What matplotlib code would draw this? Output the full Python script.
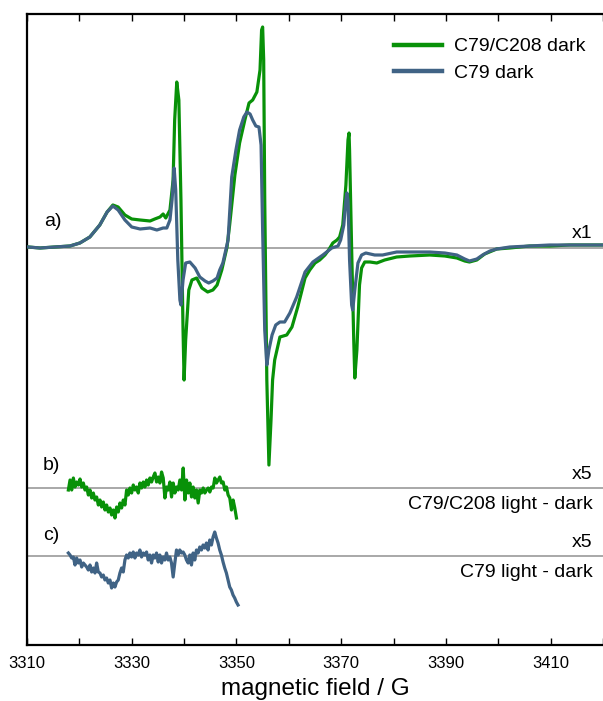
import numpy as np
import matplotlib
matplotlib.use("Agg")
import matplotlib.pyplot as plt
from matplotlib.ticker import MultipleLocator

plt.rcParams['font.family'] = ['Liberation Sans', 'DejaVu Sans']

# dark spectra (field in G, intensity in arb. units)
field_dark = [3310.2, 3312.5, 3315.3, 3318.2, 3320.1, 3322.0, 3323.9, 3325.3, 3326.4, 3327.4,
              3328.7, 3330.0, 3331.6, 3333.5, 3334.4, 3335.4, 3336.0, 3336.5, 3337.3, 3337.9,
              3338.2, 3338.6, 3339.0, 3339.4, 3339.8, 3340.0, 3340.3, 3340.9, 3341.5, 3342.4,
              3343.4, 3344.5, 3345.5, 3346.3, 3347.2, 3348.2, 3348.7, 3349.7, 3350.6, 3351.6,
              3352.4, 3353.1, 3353.9, 3354.5, 3354.8, 3355.0, 3355.2, 3355.4, 3355.8, 3356.2,
              3356.6, 3356.9, 3357.3, 3358.3, 3359.6, 3360.6, 3361.7, 3363.1, 3364.0, 3365.0,
              3365.9, 3366.9, 3367.6, 3368.4, 3369.2, 3369.7, 3370.3, 3370.9, 3371.3, 3371.5,
              3371.6, 3372.0, 3372.4, 3372.6, 3373.0, 3373.5, 3373.9, 3374.5, 3375.5, 3376.8,
              3378.3, 3380.6, 3383.1, 3386.9, 3389.8, 3392.1, 3393.6, 3394.5, 3395.9, 3397.4,
              3399.7, 3402.2, 3406.0, 3409.8, 3413.6, 3417.4, 3419.9]
c79_c208_dark = [1, 0, 1, 2, 5, 11, 23, 36, 43, 41,
                 33, 29, 28, 27, 29, 31, 34, 30, 38, 68,
                 128, 166, 148, 48, -82, -132, -92, -42, -32, -30,
                 -40, -44, -42, -37, -22, 1, 23, 73, 105, 128,
                 145, 148, 156, 178, 218, 221, 188, 48, -132, -217,
                 -172, -132, -112, -89, -87, -79, -59, -30, -22, -15,
                 -12, -7, -2, 5, 8, 11, 23, 63, 108, 115,
                 98, -2, -92, -130, -102, -37, -20, -14, -14, -15,
                 -12, -9, -8, -7, -8, -10, -13, -14, -12, -6,
                 -1, 0, 2, 2, 3, 3, 3]

field_c79 = [3310.2, 3312.5, 3315.3, 3318.2, 3320.1, 3322.0, 3323.9, 3325.3, 3326.4, 3327.4,
             3328.7, 3330.0, 3331.6, 3333.5, 3334.8, 3336.0, 3336.7, 3337.3, 3337.7, 3338.1,
             3338.4, 3338.8, 3339.2, 3339.4, 3339.8, 3340.3, 3341.1, 3342.1, 3343.0, 3344.0,
             3344.7, 3345.5, 3346.3, 3346.8, 3347.4, 3348.4, 3349.1, 3349.9, 3350.6, 3351.4,
             3352.0, 3352.6, 3353.1, 3353.7, 3354.3, 3354.7, 3355.0, 3355.4, 3355.8, 3356.2,
             3356.8, 3357.5, 3358.3, 3359.2, 3360.2, 3361.5, 3363.1, 3364.6, 3366.5, 3368.2,
             3369.4, 3369.9, 3370.5, 3370.9, 3371.1, 3371.3, 3371.6, 3372.0, 3372.2, 3372.6,
             3373.2, 3373.9, 3374.7, 3376.4, 3377.9, 3380.6, 3383.7, 3386.9, 3389.8, 3392.1,
             3393.6, 3394.5, 3395.9, 3397.0, 3398.4, 3399.7, 3402.2, 3406.0, 3409.8, 3413.6,
             3417.4, 3419.9]
c79_dark = [1, 0, 1, 2, 5, 11, 23, 36, 42, 38,
            28, 21, 19, 20, 18, 20, 20, 28, 48, 80,
            58, -12, -52, -57, -32, -15, -14, -20, -29, -33,
            -35, -33, -30, -22, -15, 8, 71, 98, 118, 131,
            136, 134, 128, 122, 121, 103, 18, -82, -117, -102,
            -87, -77, -74, -74, -65, -49, -24, -14, -7, 0,
            2, 8, 23, 48, 55, 48, -12, -57, -62, -42,
            -15, -7, -5, -7, -7, -4, -4, -4, -5, -7,
            -11, -13, -11, -7, -3, -1, 1, 2, 3, 3,
            3, 3]

# light - dark difference spectra (already scaled x5)
diff_c79_c208 = [-2, 8, -2, 10, 1, 6, 3, 9, 1, 5, -2, 1, -7, -2, -10, -5, -12, -9, -17, -12,
                 -19, -14, -22, -17, -24, -20, -27, -22, -30, -19, -24, -15, -20, -12, -17, -2,
                 -7, 0, -5, 3, -2, 1, -5, 5, 0, 6, 1, 8, 3, 10, 6, 11, 15, 6, 11, 5,
                 16, 10, -10, 1, -2, 6, -9, 5, -5, 1, -2, 8, -2, 20, -12, 8, -5, 5, -9, 1,
                 -10, -2, -15, -2, -5, 0, -5, -2, 0, -4, 1, 0, 10, 5, 8, 11, 5, 6, -2, 1,
                 -7, -10, -22, -12, -20, -30]
diff_c79 = [3, 1, -2, -1, -9, -2, -7, -4, -11, -7, -9, -11, -14, -9, -16, -12, -17, -7, -16, -17,
            -21, -19, -24, -22, -27, -24, -32, -27, -31, -26, -24, -17, -12, -16, -4, 1,
            -2, 3, -1, 4, -2, 3, 1, 6, -1, 3, 1, 4, -4, 1, -7, 1, -2, 3, -6, 1,
            -7, -1, -4, 3, -4, -1, -7, -21, -7, 6, 1, 6, 3, 4, 1, -4, -7, 1, -9, 3,
            -4, 6, 3, 9, 6, 11, 8, 13, 6, 16, 11, 19, 24, 18, 13, 6, 1, -6, -12, -17,
            -24, -31, -34, -39, -42, -46, -49]
field_b = np.linspace(3317.9, 3350.0, len(diff_c79_c208))
field_c = np.linspace(3317.9, 3350.3, len(diff_c79))

offset_b = -240
offset_c = -308

green = '#089108'
blue = '#406385'
grey = '#9a9a9a'

fig = plt.figure(figsize=(6.03, 7.01), dpi=100)
ax = fig.add_axes([27 / 603, 56 / 701, 576 / 603, 631 / 701])

# reference baselines
for off in [0, offset_b, offset_c]:
    ax.axhline(off, color=grey, lw=1.2, zorder=1)

ax.plot(field_dark, c79_c208_dark, color=green, lw=2.3, label='C79/C208 dark', zorder=3)
ax.plot(field_c79, c79_dark, color=blue, lw=2.3, label='C79 dark', zorder=4)
ax.plot(field_b, np.array(diff_c79_c208) + offset_b, color=green, lw=2.3, zorder=3)
ax.plot(field_c, np.array(diff_c79) + offset_c, color=blue, lw=2.3, zorder=3)

ax.set_xlim(3310, 3420)
ax.set_ylim(-397, 234)

ax.set_xticks(np.arange(3310, 3411, 20))
ax.xaxis.set_minor_locator(MultipleLocator(10))
ax.tick_params(axis='x', which='both', direction='in', top=True, length=5, width=1, pad=8)
for lab in ax.get_xticklabels():
    lab.set_family(['Liberation Sans Narrow', 'Liberation Sans', 'DejaVu Sans'])
    lab.set_fontsize(12)
ax.set_yticks([])
ax.spines['right'].set_visible(False)
for s in ['left', 'top', 'bottom']:
    ax.spines[s].set_linewidth(1.6)

ax.set_xlabel('magnetic field / G', fontsize=17.5, labelpad=5)

# panel labels and scale notes
ax.text(3313.3, 18, 'a)', fontsize=14, va='bottom')
ax.text(3313.0, offset_b + 14, 'b)', fontsize=14, va='bottom')
ax.text(3313.0, offset_c + 12, 'c)', fontsize=14, va='bottom')
ax.text(3418.0, 6, 'x1', fontsize=14, ha='right', va='bottom')
ax.text(3418.0, offset_b + 5, 'x5', fontsize=14, ha='right', va='bottom')
ax.text(3418.0, offset_c + 5, 'x5', fontsize=14, ha='right', va='bottom')
ax.text(3418.0, offset_b - 8, 'C79/C208 light - dark', fontsize=14, ha='right', va='top')
ax.text(3418.0, offset_c - 8, 'C79 light - dark', fontsize=14, ha='right', va='top')

leg = ax.legend(loc='upper right', bbox_to_anchor=(1.0, 0.99), frameon=False, fontsize=14,
                handlelength=2.5, handletextpad=0.6, labelspacing=0.45)
for line in leg.get_lines():
    line.set_linewidth(3.2)

fig.savefig('out.png', dpi=100)
